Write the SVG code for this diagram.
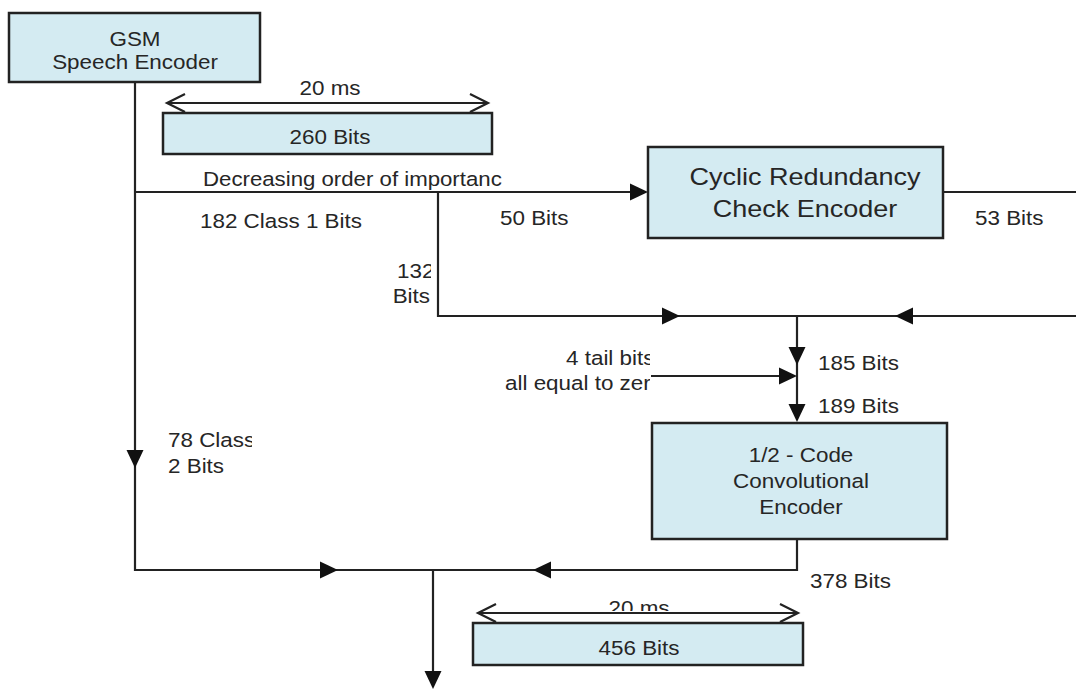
<svg xmlns="http://www.w3.org/2000/svg" xmlns:xlink="http://www.w3.org/1999/xlink" width="1076" height="691" viewBox="0 0 1076 691">
<style>
  .box { fill: #d4ebf2; stroke: #222; stroke-width: 2.5; }
  .ln { fill: none; stroke: #222; stroke-width: 2.2; }
  .chev { fill: none; stroke: #222; stroke-width: 2.2; stroke-linejoin: miter; }
  .ah { fill: #111; }
  text { font-family: "Liberation Sans", Arial, sans-serif; font-size: 19.5px; fill: #262626; }
  .big { font-size: 23.5px; }
  .m { text-anchor: middle; }
  .e { text-anchor: end; }
</style>
<defs>
  <path id="ah" d="M0,0 L-18,-8.5 L-18,8.5 Z"/>
  <clipPath id="c132" clipPathUnits="userSpaceOnUse"><rect x="0" y="0" width="431" height="691"/></clipPath>
  <clipPath id="c78" clipPathUnits="userSpaceOnUse"><rect x="0" y="0" width="252" height="691"/></clipPath>
  <clipPath id="ctail" clipPathUnits="userSpaceOnUse"><rect x="0" y="0" width="650" height="691"/></clipPath>
  <clipPath id="c20" clipPathUnits="userSpaceOnUse"><rect x="0" y="0" width="1076" height="611"/></clipPath>
</defs>
<rect width="1076" height="691" fill="#fff"/>

<g id="connectors">
  <path class="ln" d="M135,82 V570 H797 V539"/>
  <path class="ln" d="M135,192 H640"/>
  <path class="ln" d="M438,192 V316 H1076"/>
  <path class="ln" d="M943,192 H1076"/>
  <path class="ln" d="M797,316 V414"/>
  <path class="ln" d="M651,376 H790"/>
  <path class="ln" d="M433,570 V682"/>
  <use href="#ah" class="ah" transform="translate(648,192)"/>
  <use href="#ah" class="ah" transform="translate(680,316)"/>
  <use href="#ah" class="ah" transform="translate(895,316) rotate(180)"/>
  <use href="#ah" class="ah" transform="translate(797,365) rotate(90)"/>
  <use href="#ah" class="ah" transform="translate(797,376)"/>
  <use href="#ah" class="ah" transform="translate(797,422) rotate(90)"/>
  <use href="#ah" class="ah" transform="translate(135,468) rotate(90)"/>
  <use href="#ah" class="ah" transform="translate(338,570)"/>
  <use href="#ah" class="ah" transform="translate(533,570) rotate(180)"/>
  <use href="#ah" class="ah" transform="translate(433,689) rotate(90)"/>
</g>

<g id="gsm">
  <rect class="box" x="9" y="13" width="251" height="69"/>
  <text class="m" transform="translate(135,46) scale(1.15,1)">GSM</text>
  <text class="m" transform="translate(135,69) scale(1.15,1)">Speech Encoder</text>
</g>

<g id="frame260">
  <path class="ln" d="M167,103 H488"/>
  <polyline class="chev" points="185,94 167,103 185,112"/>
  <polyline class="chev" points="470,94 488,103 470,112"/>
  <text class="m" transform="translate(330,95) scale(1.15,1)">20 ms</text>
  <rect class="box" x="163" y="113" width="329" height="41"/>
  <text class="m" transform="translate(330,144) scale(1.15,1)">260 Bits</text>
</g>

<g id="labels">
  <text transform="translate(203,186) scale(1.14,1)">Decreasing order of importanc</text>
  <text transform="translate(200,228) scale(1.15,1)">182 Class 1 Bits</text>
  <text transform="translate(500,225) scale(1.15,1)">50 Bits</text>
  <text transform="translate(975,225) scale(1.15,1)">53 Bits</text>
  <g clip-path="url(#c132)">
    <text transform="translate(397,278) scale(1.15,1)">132</text>
  </g>
  <text class="e" transform="translate(430,303) scale(1.15,1)">Bits</text>
  <g clip-path="url(#ctail)">
    <text transform="translate(566,365) scale(1.15,1)">4 tail bits</text>
    <text transform="translate(505,390) scale(1.15,1)">all equal to zero</text>
  </g>
  <text transform="translate(818,370) scale(1.15,1)">185 Bits</text>
  <text transform="translate(818,413) scale(1.15,1)">189 Bits</text>
  <g clip-path="url(#c78)">
    <text transform="translate(168,447) scale(1.15,1)">78 Class</text>
  </g>
  <text transform="translate(168,473) scale(1.15,1)">2 Bits</text>
  <text transform="translate(810,588) scale(1.15,1)">378 Bits</text>
</g>

<g id="crc">
  <rect class="box" x="648" y="147" width="295" height="91"/>
  <text class="big m" transform="translate(805,185) scale(1.15,1)">Cyclic Redundancy</text>
  <text class="big m" transform="translate(805,217) scale(1.15,1)">Check Encoder</text>
</g>

<g id="conv">
  <rect class="box" x="652" y="423" width="295" height="116"/>
  <text class="m" transform="translate(801,462) scale(1.15,1)">1/2 - Code</text>
  <text class="m" transform="translate(801,488) scale(1.15,1)">Convolutional</text>
  <text class="m" transform="translate(801,514) scale(1.15,1)">Encoder</text>
</g>

<g id="frame456">
  <g clip-path="url(#c20)">
    <text class="m" transform="translate(639,615) scale(1.15,1)">20 ms</text>
  </g>
  <path class="ln" d="M478,613 H798"/>
  <polyline class="chev" points="496,604 478,613 496,622"/>
  <polyline class="chev" points="780,604 798,613 780,622"/>
  <rect class="box" x="473" y="623" width="330" height="42"/>
  <text class="m" transform="translate(639,655) scale(1.15,1)">456 Bits</text>
</g>
</svg>
